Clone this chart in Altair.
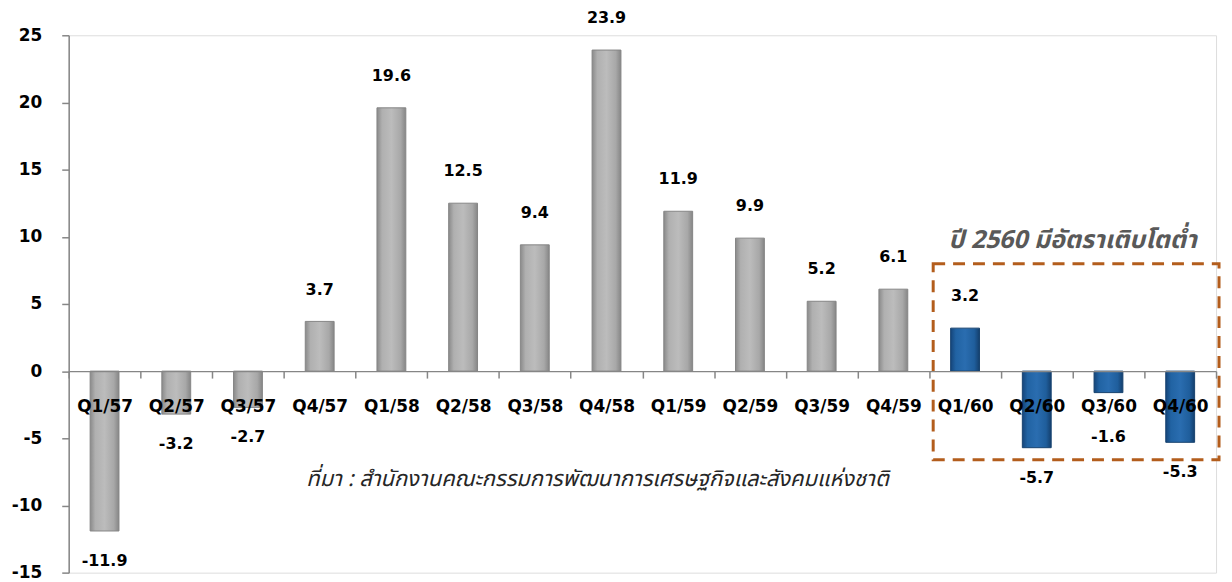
import altair as alt
import pandas as pd

categories = ["Q1/57", "Q2/57", "Q3/57", "Q4/57",
              "Q1/58", "Q2/58", "Q3/58", "Q4/58",
              "Q1/59", "Q2/59", "Q3/59", "Q4/59",
              "Q1/60", "Q2/60", "Q3/60", "Q4/60"]
values = [-11.9, -3.2, -2.7, 3.7,
          19.6, 12.5, 9.4, 23.9,
          11.9, 9.9, 5.2, 6.1,
          3.2, -5.7, -1.6, -5.3]
highlight = [False] * 12 + [True] * 4
y_ticks = [-15, -10, -5, 0, 5, 10, 15, 20, 25]

box_title = "ปี 2560 มีอัตราเติบโตต่ำ"
source_note = "ที่มา : สำนักงานคณะกรรมการพัฒนาการเศรษฐกิจและสังคมแห่งชาติ"
box_cats = ["Q1/60", "Q4/60"]
box_vals = [8.0, -6.6]

df = pd.DataFrame({"q": categories, "v": values, "hl": highlight,
                   "lab": [f"{v:.1f}" for v in values]})

FONT = "DejaVu Sans"
THAI = "Noto Sans Thai, Noto Sans, Tahoma, sans-serif"

x = alt.X("q:N", sort=categories,
          scale=alt.Scale(domain=categories, paddingInner=0, paddingOuter=0),
          axis=alt.Axis(title=None, orient="bottom", offset=-202.5, labelAngle=0,
                        labelFont=FONT, labelFontSize=17, labelFontWeight="bold",
                        labelColor="#000000", labelPadding=21,
                        tickBand="extent", tickSize=7, tickColor="#868686",
                        tickWidth=1.5, domainColor="#868686", domainWidth=1.5,
                        zindex=1))
y = alt.Y("v:Q",
          scale=alt.Scale(domain=[-15, 25], nice=False, zero=False),
          axis=alt.Axis(title=None, values=y_ticks, grid=False,
                        labelExpr="toString(datum.value)",
                        labelFont=FONT, labelFontSize=17, labelFontWeight="bold",
                        labelColor="#000000", labelPadding=20,
                        tickSize=7, tickColor="#868686", tickWidth=1.5,
                        domainColor="#868686", domainWidth=1.5, zindex=1))

gray_grad = alt.LinearGradient(
    gradient="linear", x1=0, x2=1, y1=0, y2=0,
    stops=[alt.GradientStop(color="#8a8a8a", offset=0),
           alt.GradientStop(color="#b0b0b0", offset=0.18),
           alt.GradientStop(color="#bcbcbc", offset=0.5),
           alt.GradientStop(color="#a8a8a8", offset=0.82),
           alt.GradientStop(color="#868686", offset=1)])
blue_grad = alt.LinearGradient(
    gradient="linear", x1=0, x2=1, y1=0, y2=0,
    stops=[alt.GradientStop(color="#15457a", offset=0),
           alt.GradientStop(color="#2163a3", offset=0.18),
           alt.GradientStop(color="#2a6db0", offset=0.5),
           alt.GradientStop(color="#1f5e9c", offset=0.82),
           alt.GradientStop(color="#143f6d", offset=1)])

base = alt.Chart(df)

gray_bars = base.transform_filter("!datum.hl").mark_bar(
    width=29, color=gray_grad, stroke="#858585", strokeWidth=1
).encode(x=x, y=y, y2=alt.datum(0))

blue_bars = base.transform_filter("datum.hl").mark_bar(
    width=29, color=blue_grad, stroke="#17436f", strokeWidth=1
).encode(x=x, y=y, y2=alt.datum(0))

pos_labels = base.transform_filter("datum.v >= 0").mark_text(
    font=FONT, fontSize=16, fontWeight="bold", color="#000000",
    baseline="middle", dy=-32
).encode(x=x, y=y, text="lab:N")

neg_labels = base.transform_filter("datum.v < 0").transform_calculate(
    ly="min(datum.v, -2.7)"
).mark_text(
    font=FONT, fontSize=16, fontWeight="bold", color="#000000",
    baseline="middle", dy=30
).encode(x=x, y=alt.Y("ly:Q"), text="lab:N")

box_df = pd.DataFrame({"x1": [box_cats[0]], "x2": [box_cats[1]],
                       "y1": [box_vals[0]], "y2": [box_vals[1]]})
box = alt.Chart(box_df).mark_rect(
    fill=None, fillOpacity=0, stroke="#b35d1c", strokeWidth=3, strokeDash=[12, 8],
    xOffset=4, x2Offset=3
).encode(
    x=alt.X("x1:N", bandPosition=0),
    x2=alt.X2("x2:N", bandPosition=1),
    y="y1:Q", y2="y2:Q")

title_df = pd.DataFrame({"q": ["Q2/60"], "v": [9.75], "t": [box_title]})
title_txt = alt.Chart(title_df).mark_text(
    font=THAI, fontSize=25, fontWeight="bold", fontStyle="italic",
    color="#595959", baseline="middle", dx=36
).encode(x=alt.X("q:N"), y=alt.Y("v:Q"), text="t:N")

src_df = pd.DataFrame({"q": ["Q4/58"], "v": [-8.05], "t": [source_note]})
src_txt = alt.Chart(src_df).mark_text(
    font=THAI, fontSize=22, fontStyle="italic",
    color="#262626", baseline="middle", dx=-9
).encode(x=alt.X("q:N"), y=alt.Y("v:Q"), text="t:N")

chart = alt.layer(gray_bars, blue_bars, pos_labels, neg_labels, box, title_txt, src_txt).properties(
    width=1153, height=540,
    autosize=alt.AutoSizeParams(type="none"),
    padding={"left": 61, "top": 26, "right": 8, "bottom": 8}
).configure_view(stroke=None).configure(background="#ffffff")

chart.save("out.html", embed_options={"renderer": "svg", "actions": False})
